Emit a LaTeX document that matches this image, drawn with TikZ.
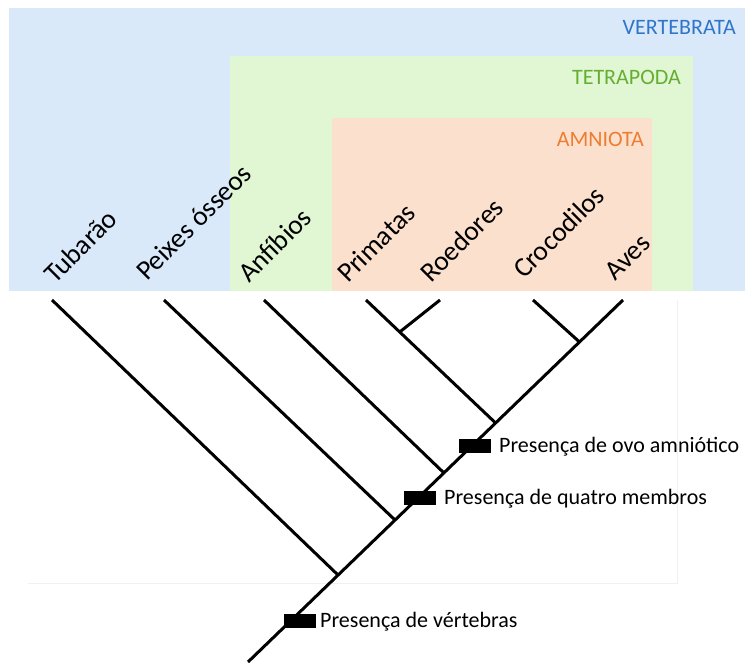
\documentclass[tikz,border=0pt]{standalone}
\usepackage{fontspec}
\setmainfont{Carlito}
\definecolor{bgblue}{RGB}{218,233,250}
\definecolor{bggreen}{RGB}{225,247,212}
\definecolor{bgsalmon}{RGB}{252,224,206}
\definecolor{txblue}{RGB}{47,117,200}
\definecolor{txgreen}{RGB}{100,175,50}
\definecolor{txorange}{RGB}{237,125,49}
\begin{document}
\begin{tikzpicture}[x=1pt,y=-1pt,
  grouplabel/.style={font=\fontsize{22}{26}\selectfont,inner sep=0pt,anchor=base east},
  taxon/.style={font=\fontsize{27.5}{32}\selectfont,inner sep=0pt,anchor=base west,rotate=45},
  branch/.style={line width=3pt,line cap=butt},
  traitbar/.style={fill=black,draw=none,minimum width=32pt,minimum height=14pt,inner sep=0pt},
  traittext/.style={font=\fontsize{22}{26}\selectfont,inner sep=0pt,anchor=base west}]
\useasboundingbox (0,0) rectangle (745,662);
% group boxes
\fill[bgblue] (9,8) rectangle (745,291);
\fill[bggreen] (230,56) rectangle (693,291);
\fill[bgsalmon] (332,118) rectangle (652,291);
\node[grouplabel,text=txblue] (lv) at (736,34) {VERTEBRATA};
\node[grouplabel,text=txgreen] (lt) at (681,84) {TETRAPODA};
\node[grouplabel,text=txorange] (la) at (644,146) {AMNIOTA};
% faint frame
\draw[black!6,line width=1pt] (677,300) -- (677,583) -- (28,583);
% taxa labels
\node[taxon] (nTub) at (55,285) {Tubarão};
\node[taxon] (nPei) at (147,282) {Peixes ósseos};
\node[taxon] (nAnf) at (249,284) {Anfíbios};
\node[taxon] (nPri) at (348,284) {Primatas};
\node[taxon] (nRoe) at (431,284) {Roedores};
\node[taxon] (nCro) at (524,280) {Crocodilos};
\node[taxon] (nAve) at (615,282) {Aves};
% tree coordinates
\coordinate (tTub) at (52,300);
\coordinate (tPei) at (164,300);
\coordinate (tAnf) at (264,300);
\coordinate (tPri) at (366,300);
\coordinate (tRoe) at (440,300);
\coordinate (tCro) at (533,300);
\coordinate (tAve) at (623,300);
\coordinate (root) at (248,662);
\coordinate (nVe) at (338,575);
\coordinate (nPe) at (395,520);
\coordinate (nTe) at (444,473);
\coordinate (nAm) at (495.6,423);
\coordinate (nCA) at (579.5,342);
\coordinate (nPR) at (399.7,332);
% branches
\draw[branch] (root) -- (tAve);
\draw[branch] (tTub) -- (nVe);
\draw[branch] (tPei) -- (nPe);
\draw[branch] (tAnf) -- (nTe);
\draw[branch] (tPri) -- (nAm);
\draw[branch] (tRoe) -- (nPR);
\draw[branch] (tCro) -- (nCA);
% traits
\node[traitbar] (b1) at (475,446) {};
\node[traittext] (t1) at (499,452) {Presença de ovo amniótico};
\node[traitbar] (b2) at (420,498) {};
\node[traittext] (t2) at (444,504) {Presença de quatro membros};
\node[traitbar] (b3) at (299.5,621) {};
\node[traittext] (t3) at (320,627) {Presença de vértebras};
\end{tikzpicture}
\end{document}
